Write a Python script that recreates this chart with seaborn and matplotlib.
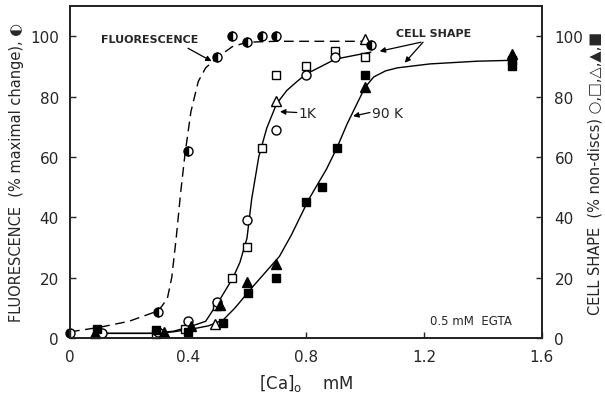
import matplotlib
matplotlib.use("Agg")
import matplotlib.pyplot as plt
import seaborn as sns

# ---------------- data ----------------
# Fluorescence (half-filled circles)
fl_x = [0.0, 0.30, 0.40, 0.50, 0.55, 0.60, 0.65, 0.70, 1.02]
fl_y = [1.5, 8.6, 62, 93, 100, 98, 100, 100, 97]
# Cell shape, 1K (open symbols)
oc_x = [0.11, 0.30, 0.40, 0.50, 0.60, 0.70, 0.80, 0.90]
oc_y = [1.5, 2.0, 5.6, 12, 39, 69, 87, 93]
os_x = [0.29, 0.39, 0.50, 0.55, 0.60, 0.65, 0.70, 0.80, 0.90, 1.00]
os_y = [1.4, 3.0, 10.5, 20, 30, 63, 87, 90, 95, 93]
ot_x = [0.49, 0.70, 1.00]
ot_y = [4.6, 78.5, 99]
# Cell shape, 90K (filled symbols)
ft_x = [0.085, 0.32, 0.41, 0.51, 0.60, 0.70, 1.00, 1.50]
ft_y = [1.5, 2.0, 4.0, 11, 18.5, 24.5, 83, 94]
fs_x = [0.09, 0.29, 0.40, 0.52, 0.605, 0.70, 0.80, 0.855, 0.905, 1.00, 1.50, 1.50]
fs_y = [3.0, 2.6, 2.0, 5.0, 15, 20, 45, 50, 63, 87, 92, 90]

# Fitted curves
flc_x = [0.0, 0.1, 0.2, 0.30, 0.33, 0.345, 0.36, 0.375, 0.39, 0.41, 0.435, 0.46, 0.50, 0.55, 0.60, 0.70, 1.00]
flc_y = [2.0, 3.5, 5.5, 9.0, 13, 20, 33, 48, 61, 75, 85, 89.5, 93, 96.5, 98, 98.3, 98.3]
k1_x = [0.10, 0.28, 0.35, 0.40, 0.46, 0.51, 0.553, 0.576, 0.60, 0.616, 0.64, 0.667, 0.70, 0.735, 0.77, 0.80, 0.90, 1.02]
k1_y = [1.5, 1.5, 2.2, 3.5, 5.5, 13, 20, 25, 33, 46, 60, 69.5, 77.5, 82, 85, 87.4, 92.4, 94.7]
k90_x = [0.10, 0.28, 0.35, 0.417, 0.47, 0.52, 0.56, 0.62, 0.71, 0.75, 0.78, 0.81, 0.84, 0.87, 0.905, 0.94, 0.97, 1.00, 1.03, 1.07, 1.11, 1.22, 1.38, 1.50]
k90_y = [1.5, 1.5, 2.0, 3.0, 4.0, 6.0, 10, 17, 27, 34, 40, 46, 51, 56, 63, 71, 77, 83, 86.5, 88.5, 89.5, 90.8, 91.7, 92]

x_ticks = [0, 0.4, 0.8, 1.2, 1.6]
x_tick_labels = ["0", "0.4", "0.8", "1.2", "1.6"]
y_ticks = [0, 20, 40, 60, 80, 100]

# ---------------- figure ----------------
sns.set_style("ticks")
plt.rcParams["font.family"] = ["DejaVu Sans"]

fig = plt.figure(figsize=(6.05, 4.02), dpi=100)
ax = fig.add_axes([0.1157, 0.157, 0.780, 0.8256])

# curves
sns.lineplot(x=flc_x, y=flc_y, ax=ax, color="black", lw=1.0, sort=False,
             estimator=None, linestyle=(0, (7, 4)))
sns.lineplot(x=k1_x, y=k1_y, ax=ax, color="black", lw=1.0, sort=False, estimator=None)
sns.lineplot(x=k90_x, y=k90_y, ax=ax, color="black", lw=1.0, sort=False, estimator=None)

ms = 6.5
common = dict(ax=ax, estimator=None, sort=False, linestyle="", color="black",
              markeredgecolor="black", markeredgewidth=1.0, clip_on=False, zorder=5)
sns.lineplot(x=os_x, y=os_y, marker="s", markersize=ms - 0.5, markerfacecolor="white", **common)
sns.lineplot(x=oc_x, y=oc_y, marker="o", markersize=ms, markerfacecolor="white", **common)
sns.lineplot(x=ot_x, y=ot_y, marker="^", markersize=ms + 0.5, markerfacecolor="white", **common)
sns.lineplot(x=fs_x, y=fs_y, marker="s", markersize=ms - 0.5, markerfacecolor="black", **common)
sns.lineplot(x=ft_x, y=ft_y, marker="^", markersize=ms + 0.5, markerfacecolor="black", **common)
sns.lineplot(x=fl_x, y=fl_y, marker="o", markersize=ms, markerfacecolor="black",
             fillstyle="left", markerfacecoloralt="white", **common)

ax.set_xlim(0, 1.6)
ax.set_ylim(0, 110)
ax.set_xticks(x_ticks)
ax.set_xticklabels(x_tick_labels)
ax.set_yticks(y_ticks)
for s in ax.spines.values():
    s.set_linewidth(1.2)
    s.set_color("black")
ax.tick_params(direction="in", length=4, width=1, labelsize=11, pad=8)

ax2 = ax.twinx()
ax2.set_ylim(0, 110)
ax2.set_yticks(y_ticks)
ax2.tick_params(direction="in", length=4, width=1, labelsize=11, pad=9)
for s in ax2.spines.values():
    s.set_linewidth(1.2)

ax.set_ylabel("FLUORESCENCE  (% maximal change), \u25D0", fontsize=10.5, labelpad=4)
ax2.set_ylabel("CELL SHAPE  (% non-discs) \u25CB,\u25A1,\u25B3,\u25B2,\u25A0", fontsize=10.5,
               rotation=90, labelpad=3)
ax.set_xlabel("$\\left[\\mathrm{Ca}\\right]_\\mathrm{o}$    mM", fontsize=12, labelpad=6)

# annotations
arr = dict(arrowstyle="-|>", color="black", lw=0.9, mutation_scale=8, shrinkA=0, shrinkB=0)
ax.text(0.271, 99.1, "FLUORESCENCE", fontsize=8, ha="center", va="center", fontweight="bold")
ax.annotate("", xy=(0.48, 91.7), xytext=(0.40, 96), arrowprops=arr)
ax.text(1.234, 101, "CELL SHAPE", fontsize=8, ha="center", va="center", fontweight="bold")
ax.annotate("", xy=(1.05, 95), xytext=(1.19, 98), arrowprops=arr)
ax.annotate("", xy=(1.135, 91.2), xytext=(1.197, 98), arrowprops=arr)
ax.text(0.773, 74.7, "1K", fontsize=10, ha="left", va="center")
ax.annotate("", xy=(0.712, 75), xytext=(0.769, 74.7), arrowprops=arr)
ax.text(1.024, 74.7, "90 K", fontsize=10, ha="left", va="center")
ax.annotate("", xy=(0.96, 73.5), xytext=(1.017, 74.7), arrowprops=arr)
ax.text(1.22, 5.6, "0.5 mM  EGTA", fontsize=8.5, ha="left", va="center")

fig.savefig("out.png", dpi=100)
